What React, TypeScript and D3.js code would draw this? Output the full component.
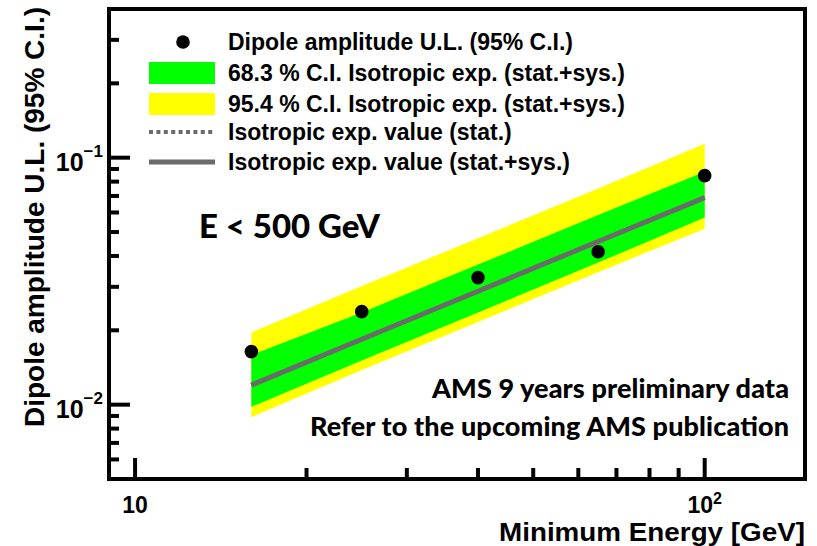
import React from "react";
import * as d3 from "d3";

const energies = [16, 25, 40, 65, 100];
const dipoleUL = [0.0164, 0.0238, 0.0327, 0.0416, 0.0846];
const expStatSys = [0.012, 0.0184, 0.0288, 0.0458, 0.0689];
const expStat = [0.012, 0.0184, 0.0288, 0.0458, 0.0689];
const band68Lo = [0.0098, 0.0151, 0.0236, 0.0376, 0.0572];
const band68Hi = [0.0159, 0.0236, 0.0369, 0.0586, 0.0877];
const band95Lo = [0.0089, 0.0138, 0.0216, 0.0344, 0.0516];
const band95Hi = [0.0196, 0.0302, 0.0472, 0.0751, 0.114];

const xMajorTicks = [10, 100];
const xMajorLabels = [{ base: "10", exp: "" }, { base: "10", exp: "2" }];
const xMinorTicks = [20, 30, 40, 50, 60, 70, 80, 90];
const yMajorTicks = [0.01, 0.1];
const yMajorLabels = [{ base: "10", exp: "\u22122" }, { base: "10", exp: "\u22121" }];
const yMinorTicks = [0.006, 0.007, 0.008, 0.009, 0.02, 0.03, 0.04, 0.05, 0.06, 0.07, 0.08, 0.09, 0.2, 0.3];

const legendLabels = [
  "Dipole amplitude U.L. (95% C.I.)",
  "68.3 % C.I. Isotropic exp. (stat.+sys.)",
  "95.4 % C.I. Isotropic exp. (stat.+sys.)",
  "Isotropic exp. value (stat.)",
  "Isotropic exp. value (stat.+sys.)",
];

const xTitle = "Minimum Energy [GeV]";
const yTitle = "Dipole amplitude U.L. (95% C.I.)";
const note1 = "E < 500 GeV";
const note2 = "AMS 9 years preliminary data";
const note3 = "Refer to the upcoming AMS publication";

const W = 817;
const H = 546;
const L = 109, R = 805, T = 9, B = 479;

const x = d3.scaleLog().domain([9, 150]).range([L, R]);
const y = d3.scaleLog().domain([0.005, 0.4]).range([B, T]);

const HEL = "'Liberation Sans', Arial, Helvetica, sans-serif";
const CAL = "Lato, 'Open Sans', sans-serif";

export default function App() {
  const idx = energies.map((_, i) => i);
  const area = (lo: number[], hi: number[]) =>
    d3
      .area<number>()
      .x((i) => x(energies[i]))
      .y0((i) => y(lo[i]))
      .y1((i) => y(hi[i]))(idx) || "";
  const line = (v: number[]) =>
    d3
      .line<number>()
      .x((i) => x(energies[i]))
      .y((i) => y(v[i]))(idx) || "";

  const gray = "#6b6b6b";
  const legRows = [42, 73, 104, 132, 162];

  return (
    <svg width={W} height={H} style={{ position: "absolute", left: 0, top: 0, background: "#fff" }}>
      <rect x={0} y={0} width={W} height={H} fill="#fff" />
      <path d={area(band95Lo, band95Hi)} fill="#ffff00" />
      <path d={area(band68Lo, band68Hi)} fill="#00ff00" />
      <path d={line(expStat)} fill="none" stroke={gray} strokeWidth={4} strokeDasharray="4 3" />
      <path d={line(expStatSys)} fill="none" stroke={gray} strokeWidth={5} />
      {energies.map((e, i) => (
        <circle key={e} cx={x(e)} cy={y(dipoleUL[i])} r={6.8} fill="#000" />
      ))}

      {/* frame */}
      <rect x={L} y={T} width={R - L} height={B - T} fill="none" stroke="#000" strokeWidth={4} />

      {/* x ticks */}
      {xMajorTicks.map((t) => (
        <line key={"xM" + t} x1={x(t)} x2={x(t)} y1={B} y2={B - 21} stroke="#000" strokeWidth={4} />
      ))}
      {xMinorTicks.map((t) => (
        <line key={"xm" + t} x1={x(t)} x2={x(t)} y1={B} y2={B - 11} stroke="#000" strokeWidth={4} />
      ))}
      {/* y ticks */}
      {yMajorTicks.map((t) => (
        <line key={"yM" + t} x1={L} x2={L + 21} y1={y(t)} y2={y(t)} stroke="#000" strokeWidth={4} />
      ))}
      {yMinorTicks.map((t) => (
        <line key={"ym" + t} x1={L} x2={L + 10} y1={y(t)} y2={y(t)} stroke="#000" strokeWidth={4} />
      ))}

      {/* x tick labels */}
      {xMajorTicks.map((t, i) => (
        <text key={"xl" + t} x={x(t)} y={513} textAnchor="middle" fontFamily={HEL} fontWeight="bold" fontSize={23} fill="#000">
          {xMajorLabels[i].base}
          {xMajorLabels[i].exp && (
            <tspan dy={-9} fontSize={16}>
              {xMajorLabels[i].exp}
            </tspan>
          )}
        </text>
      ))}
      {/* y tick labels */}
      {yMajorTicks.map((t, i) => (
        <text key={"yl" + t} x={103} y={y(t) + 13} textAnchor="end" fontFamily={HEL} fontWeight="bold" fontSize={25} fill="#000">
          {yMajorLabels[i].base}
          <tspan dy={-14} fontSize={17}>
            {yMajorLabels[i].exp}
          </tspan>
        </text>
      ))}

      {/* axis titles */}
      <text x={805} y={541} textAnchor="end" fontFamily={HEL} fontWeight="bold" fontSize={26} textLength={306} lengthAdjust="spacingAndGlyphs" fill="#000">
        {xTitle}
      </text>
      <text transform="translate(44,7) rotate(-90)" textAnchor="end" fontFamily={HEL} fontWeight="bold" fontSize={28} fill="#000">
        {yTitle}
      </text>

      {/* legend */}
      <circle cx={183} cy={legRows[0]} r={6.8} fill="#000" />
      <rect x={149} y={62} width={66} height={22} fill="#00ff00" />
      <rect x={149} y={93} width={66} height={22} fill="#ffff00" />
      <line x1={149} x2={215} y1={legRows[3]} y2={legRows[3]} stroke={gray} strokeWidth={4} strokeDasharray="4 3.4" />
      <line x1={149} x2={215} y1={legRows[4]} y2={legRows[4]} stroke={gray} strokeWidth={5} />
      {legendLabels.map((lab, i) => (
        <text key={lab} x={228} y={legRows[i] + 8} fontFamily={HEL} fontWeight="bold" fontSize={23} fill="#000">
          {lab}
        </text>
      ))}

      {/* annotations */}
      <text x={199} y={238} fontFamily={CAL} fontWeight={900} fontSize={33} textLength={181} fill="#000">
        {note1}
      </text>
      <text x={789} y={398} textAnchor="end" fontFamily={CAL} fontWeight={900} fontSize={27} textLength={357} fill="#000">
        {note2}
      </text>
      <text x={789} y={436} textAnchor="end" fontFamily={CAL} fontWeight={900} fontSize={27} textLength={479} fill="#000">
        {note3}
      </text>
    </svg>
  );
}
